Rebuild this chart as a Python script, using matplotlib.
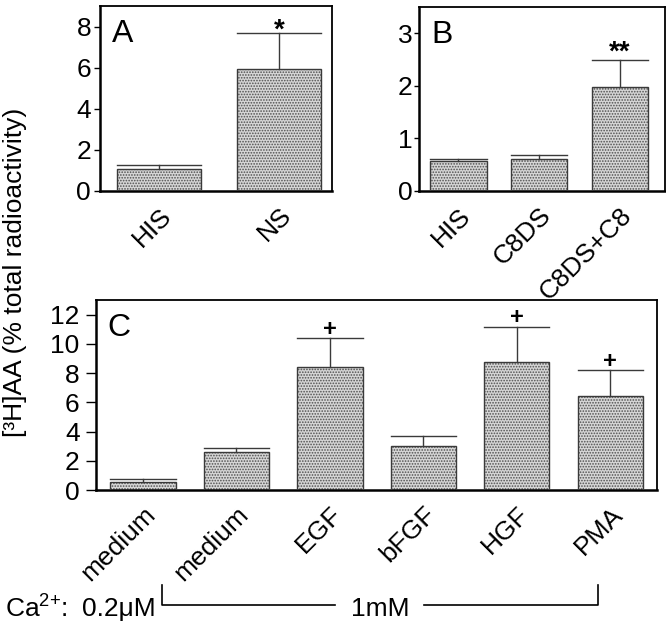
import matplotlib
matplotlib.use("Agg")
import matplotlib.pyplot as plt
import numpy as np

plt.rcParams['font.family'] = ['Liberation Sans', 'DejaVu Sans']
plt.rcParams['mathtext.fontset'] = 'custom'
plt.rcParams['mathtext.rm'] = 'Liberation Sans'
plt.rcParams['mathtext.default'] = 'regular'
plt.rcParams['hatch.linewidth'] = 0.8

# ---- data ----
a_labels = ["HIS", "NS"]
a_values = [1.04, 5.94]
a_err = [0.23, 1.75]
a_marks = ["", "*"]

b_labels = ["HIS", "C8DS", "C8DS+C8"]
b_values = [0.56, 0.60, 1.98]
b_err = [0.05, 0.08, 0.51]
b_marks = ["", "", "**"]

c_labels = ["medium", "medium", "EGF", "bFGF", "HGF", "PMA"]
c_values = [0.53, 2.59, 8.39, 3.04, 8.78, 6.40]
c_err = [0.20, 0.29, 1.99, 0.64, 2.40, 1.81]
c_marks = ["", "", "+", "", "+", "+"]

ylabel = "[³H]AA (% total radioactivity)"

W, H = 666, 624
fig = plt.figure(figsize=(W / 100, H / 100), dpi=100)


def box(l, t, r, b):
    return [l / W, 1 - b / H, (r - l) / W, (b - t) / H]


FS = 19
BAR_W = 0.7
PT = 0.72  # points per pixel at 100 dpi


def panel(rect, labels, values, err, marks, ylim, yticks, xlim, letter,
          mark_fs, mark_dy, tick_len, tick_pad):
    ax = fig.add_axes(rect)
    x = np.arange(len(values))
    ax.bar(x, values, width=BAR_W, color='#d6d6d6', edgecolor='#505050',
           hatch='......', linewidth=0, zorder=2)
    ax.bar(x, values, width=BAR_W, fill=False, edgecolor='#3a3a3a',
           linewidth=1.0, zorder=3)
    for xi, v, e in zip(x, values, err):
        ax.plot([xi, xi], [v, v + e], color='#3a3a3a', lw=1.0, zorder=3)
        ax.plot([xi - BAR_W / 2, xi + BAR_W / 2], [v + e, v + e],
                color='#3a3a3a', lw=1.0, zorder=3)
    for xi, v, e, m in zip(x, values, err, marks):
        if m:
            ax.annotate(m, (xi, v + e), xytext=(0, mark_dy),
                        textcoords='offset points', ha='center', va='bottom',
                        fontsize=mark_fs, fontweight='bold')
    ax.set_xlim(*xlim)
    ax.set_ylim(*ylim)
    ax.set_yticks(yticks)
    ax.set_xticks(x)
    ax.set_xticklabels(labels, rotation=45, ha='right', va='top',
                       rotation_mode='anchor', fontsize=FS)
    ax.tick_params(axis='x', length=0, pad=9)
    ax.tick_params(axis='y', direction='out', length=tick_len * PT, width=1,
                   labelsize=FS, pad=tick_pad * PT)
    for s in ['left', 'bottom']:
        ax.spines[s].set_linewidth(1.8)
    for s in ['top', 'right']:
        ax.spines[s].set_linewidth(1.3)
    ax.text(0.05, 0.93, letter, transform=ax.transAxes, fontsize=23,
            ha='left', va='top')
    return ax


axA = panel(box(100, 6, 332, 190.7), a_labels, a_values, a_err, a_marks,
            (0, 9), [0, 2, 4, 6, 8], (-0.494, 1.44), "A", 20, -8, 6, 3)
axB = panel(box(418.7, 7, 665, 190.7), b_labels, b_values, b_err, b_marks,
            (0, 3.5), [0, 1, 2, 3], (-0.49, 2.56), "B", 20, -4, 5, 1.5)
axC = panel(box(95.7, 300, 657, 490), c_labels, c_values, c_err, c_marks,
            (0, 13), [0, 2, 4, 6, 8, 10, 12], (-0.504, 5.5), "C", 17, -2,
            10, 6)
axC.texts[-1].set_position((0.02, 0.93))

fig.text(15 / W, 1 - 272 / H, ylabel, rotation=90, ha='center', va='center',
         fontsize=19)

# Ca2+ annotation
yline = 1 - 605 / H
ytop = 1 - 585 / H
fig.text(5 / W, 1 - 609 / H, 'Ca$^{2{+}}$:', ha='left', va='center',
         fontsize=FS)
fig.text(156 / W, 1 - 609 / H, '0.2μM', ha='right', va='center',
         fontsize=FS)
fig.add_artist(plt.Line2D([162 / W, 162 / W, 335 / W], [ytop, yline, yline],
                          color='black', lw=1.2))
fig.add_artist(plt.Line2D([424 / W, 598 / W, 598 / W], [yline, yline, ytop],
                          color='black', lw=1.2))
fig.text(380 / W, 1 - 609 / H, '1mM', ha='center', va='center', fontsize=FS)

fig.savefig("out.png", dpi=100)
